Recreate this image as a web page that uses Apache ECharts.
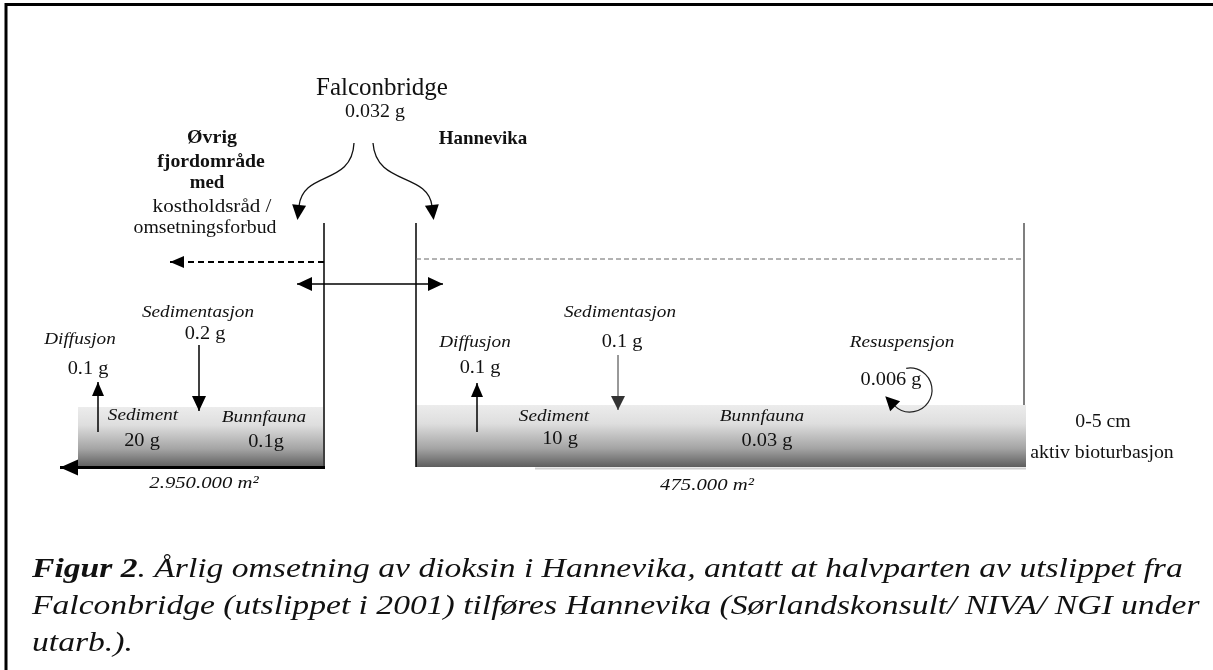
<!DOCTYPE html>
<html>
<head>
<meta charset="utf-8">
<title>Figur 2 - dioksin i Hannevika</title>
<script src="https://cdn.jsdelivr.net/npm/echarts@6/dist/echarts.min.js"></script>
<style>
  html, body { margin: 0; padding: 0; background: #fff; }
  #chart { width: 1213px; height: 670px; }
</style>
</head>
<body>
<div id="chart"></div>
<script>
// tekst og verdier lest av figuren
var source = ['Falconbridge', '0.032 g'];
var regionLeft = ['Øvrig', 'fjordområde', 'med', 'kostholdsråd /', 'omsetningsforbud'];
var regionRight = ['Hannevika'];
var processes = ['Sedimentasjon', 'Diffusjon', 'Resuspensjon'];
var compartments = ['Sediment', 'Bunnfauna'];
var sedimentasjon = ['0.2 g', '0.1 g'];   // [øvrig fjord, Hannevika]
var diffusjon = ['0.1 g', '0.1 g'];
var sediment = ['20 g', '10 g'];
var bunnfauna = ['0.1g', '0.03 g'];
var resuspensjon = ['0.006 g'];
var areas = ['2.950.000 m²', '475.000 m²'];
var layer = ['0-5 cm', 'aktiv bioturbasjon'];
var captionLines = [
  ['Figur 2', '. Årlig omsetning av dioksin i Hannevika, antatt at halvparten av utslippet fra'],
  ['', 'Falconbridge (utslippet i 2001) tilføres Hannevika (Sørlandskonsult/ NIVA/ NGI under'],
  ['', 'utarb.).']
];

var SERIF = '"Liberation Serif", "Times New Roman", serif';

// plassering i figurens koordinater (x 0-1213, y 0-670 nedover)
// sx = horisontal strekk, originalen er litt bredere enn Times
var labels = [
  { t: source[0], x: 382, y: 88, size: 25, sx: 1 },
  { t: source[1], x: 375, y: 112, size: 19, sx: 1.05 },
  { t: regionLeft[0], x: 212, y: 138, size: 19, bold: true, sx: 1.05 },
  { t: regionLeft[1], x: 211, y: 162, size: 19, bold: true, sx: 1.04 },
  { t: regionLeft[2], x: 207, y: 183, size: 18, bold: true, sx: 1.05 },
  { t: regionLeft[3], x: 212, y: 207, size: 18, sx: 1.17 },
  { t: regionLeft[4], x: 205, y: 228, size: 18, sx: 1.1 },
  { t: regionRight[0], x: 483, y: 139, size: 19, bold: true, sx: 1 },

  { t: processes[0], x: 198, y: 313, size: 17, italic: true },
  { t: sedimentasjon[0], x: 205, y: 334, size: 18 },
  { t: processes[1], x: 80, y: 340, size: 17, italic: true },
  { t: diffusjon[0], x: 88, y: 369, size: 18 },
  { t: compartments[0], x: 143, y: 416, size: 17, italic: true },
  { t: sediment[0], x: 142, y: 441, size: 18 },
  { t: compartments[1], x: 264, y: 418, size: 17, italic: true },
  { t: bunnfauna[0], x: 266, y: 442, size: 18 },
  { t: areas[0], x: 204, y: 484, size: 17, italic: true, sx: 1.22 },

  { t: processes[0], x: 620, y: 313, size: 17, italic: true },
  { t: sedimentasjon[1], x: 622, y: 342, size: 18 },
  { t: processes[1], x: 475, y: 343, size: 17, italic: true },
  { t: diffusjon[1], x: 480, y: 368, size: 18 },
  { t: compartments[0], x: 554, y: 417, size: 17, italic: true },
  { t: sediment[1], x: 560, y: 439, size: 18 },
  { t: compartments[1], x: 762, y: 417, size: 17, italic: true },
  { t: bunnfauna[1], x: 767, y: 441, size: 18 },
  { t: processes[2], x: 902, y: 343, size: 17, italic: true },
  { t: resuspensjon[0], x: 891, y: 380, size: 18 },
  { t: layer[0], x: 1103, y: 422, size: 18, sx: 1.1 },
  { t: layer[1], x: 1102, y: 453, size: 18, sx: 1.1 },
  { t: areas[1], x: 707, y: 486, size: 17, italic: true, sx: 1.22 }
];

var captionPos = [{ x: 32, y: 570 }, { x: 32, y: 607 }, { x: 32, y: 644 }];
var captionSize = 28;
var captionStretch = 1.2;

// linjer: x1, y1, x2, y2
var segs = [
  { p: [5, 4.5, 1213, 4.5], w: 3 },
  { p: [6, 3, 6, 670], w: 3 },
  { p: [324, 223, 324, 468], w: 1.5 },
  { p: [416, 223, 416, 467], w: 1.5 },
  { p: [1024, 223, 1024, 405], w: 1.5, c: '#555' },
  { p: [535, 468.5, 1026, 468.5], w: 2, c: '#d0d0d0' },
  { p: [325, 467.5, 60, 467.5], w: 3, head: 'end', hl: 18, hw: 8 },
  { p: [324, 262, 170, 262], w: 2, dash: [6, 4], head: 'end', hl: 14, hw: 6 },
  { p: [416, 259, 1024, 259], w: 1, dash: [5, 3], c: '#666' },
  { p: [297, 284, 443, 284], w: 1.5, head: 'both', hl: 15, hw: 7 },
  { p: [199, 345, 199, 411], w: 1.5, head: 'end', hl: 15, hw: 7 },
  { p: [618, 355, 618, 410], w: 1, c: '#333', head: 'end', hl: 14, hw: 7 },
  { p: [98, 432, 98, 382], w: 1.5, head: 'end', hl: 14, hw: 6 },
  { p: [477, 432, 477, 383], w: 1.5, head: 'end', hl: 14, hw: 6 }
];

// kurvepiler: x1, y1, cpx1, cpy1, cpx2, cpy2, x2, y2
var curves = [
  [354, 143, 352, 186, 303, 170, 299, 206],
  [373, 143, 376, 186, 428, 172, 432, 206]
];

// sedimentlag: x1, y1, x2, y2
var beds = [
  [78, 407, 323, 467],
  [416, 405, 1026, 467]
];

// resuspensjonssirkel: cx, cy, radiuspunkt x
var loops = [[910, 390, 932]];

function arrowHead(tip, from, hl, hw, color) {
  var dx = tip[0] - from[0], dy = tip[1] - from[1];
  var len = Math.sqrt(dx * dx + dy * dy) || 1;
  dx /= len; dy /= len;
  var bx = tip[0] - dx * hl, by = tip[1] - dy * hl;
  return {
    type: 'polygon',
    shape: { points: [tip, [bx - dy * hw, by + dx * hw], [bx + dy * hw, by - dx * hw]] },
    style: { fill: color }
  };
}

function renderSeg(params, api) {
  var s = segs[params.dataIndex];
  var a = api.coord([api.value(0), api.value(1)]);
  var b = api.coord([api.value(2), api.value(3)]);
  var color = s.c || '#000';
  var kids = [{
    type: 'line',
    shape: { x1: a[0], y1: a[1], x2: b[0], y2: b[1] },
    style: { stroke: color, lineWidth: s.w, lineDash: s.dash || null }
  }];
  if (s.head === 'end' || s.head === 'both') kids.push(arrowHead(b, a, s.hl, s.hw, color));
  if (s.head === 'both') kids.push(arrowHead(a, b, s.hl, s.hw, color));
  return { type: 'group', children: kids };
}

function renderCurve(params, api) {
  var p = [];
  for (var i = 0; i < 4; i++) p.push(api.coord([api.value(i * 2), api.value(i * 2 + 1)]));
  var end = p[3];
  var d = [end[0] - p[2][0], end[1] - p[2][1]];
  var l = Math.sqrt(d[0] * d[0] + d[1] * d[1]);
  var tip = [end[0] + d[0] / l * 14, end[1] + d[1] / l * 14];
  return {
    type: 'group',
    children: [{
      type: 'bezierCurve',
      shape: { x1: p[0][0], y1: p[0][1], cpx1: p[1][0], cpy1: p[1][1], cpx2: p[2][0], cpy2: p[2][1], x2: end[0], y2: end[1] },
      style: { stroke: '#111', lineWidth: 1.3, fill: null }
    }, arrowHead(tip, end, 15, 7, '#000')]
  };
}

function renderBed(params, api) {
  var a = api.coord([api.value(0), api.value(1)]);
  var b = api.coord([api.value(2), api.value(3)]);
  return {
    type: 'rect',
    shape: { x: a[0], y: a[1], width: b[0] - a[0], height: b[1] - a[1] },
    style: {
      fill: new echarts.graphic.LinearGradient(0, 0, 0, 1, [
        { offset: 0, color: '#ececec' },
        { offset: 0.3, color: '#dedede' },
        { offset: 0.7, color: '#a4a4a4' },
        { offset: 1, color: '#5e5e5e' }
      ])
    }
  };
}

function renderLoop(params, api) {
  var c = api.coord([api.value(0), api.value(1)]);
  var r = api.coord([api.value(2), api.value(1)])[0] - c[0];
  var a0 = -100 * Math.PI / 180, a1 = 135 * Math.PI / 180;
  var end = [c[0] + r * Math.cos(a1), c[1] + r * Math.sin(a1)];
  var dir = [-Math.sin(a1), Math.cos(a1)];
  var tip = [end[0] + dir[0] * 13, end[1] + dir[1] * 13];
  return {
    type: 'group',
    children: [{
      type: 'arc',
      shape: { cx: c[0], cy: c[1], r: r, startAngle: a0, endAngle: a1, clockwise: true },
      style: { stroke: '#222', lineWidth: 1.2, fill: null }
    }, arrowHead(tip, end, 14, 7, '#000')]
  };
}

function renderLabel(params, api) {
  var l = labels[params.dataIndex];
  var pt = api.coord([api.value(0), api.value(1)]);
  return {
    type: 'text',
    x: pt[0], y: pt[1],
    scaleX: l.sx || 1.13,
    style: {
      text: l.t,
      fill: '#111',
      fontFamily: SERIF,
      fontSize: l.size,
      fontWeight: l.bold ? 'bold' : 'normal',
      fontStyle: l.italic ? 'italic' : 'normal',
      align: 'center',
      verticalAlign: 'middle'
    }
  };
}

function renderCaption(params, api) {
  var line = captionLines[params.dataIndex];
  var pt = api.coord([api.value(0), api.value(1)]);
  var txt = (line[0] ? '{b|' + line[0] + '}' : '') + '{i|' + line[1] + '}';
  var base = { fontFamily: SERIF, fontSize: captionSize, fontStyle: 'italic', fill: '#111' };
  return {
    type: 'text',
    x: pt[0], y: pt[1],
    scaleX: captionStretch,
    style: {
      text: txt,
      align: 'left',
      verticalAlign: 'middle',
      rich: {
        b: Object.assign({ fontWeight: 'bold' }, base),
        i: Object.assign({ fontWeight: 'normal' }, base)
      }
    }
  };
}

var chart = echarts.init(document.getElementById('chart'), null, { renderer: 'canvas' });
chart.setOption({
  backgroundColor: '#fff',
  animation: false,
  grid: { left: 0, right: 0, top: 0, bottom: 0 },
  xAxis: { type: 'value', min: 0, max: 1213, show: false },
  yAxis: { type: 'value', min: 0, max: 670, inverse: true, show: false },
  series: [
    { type: 'custom', name: 'sediment', renderItem: renderBed, data: beds, silent: true, clip: false },
    { type: 'custom', name: 'linjer', renderItem: renderSeg, data: segs.map(function (s) { return s.p; }), silent: true, clip: false },
    { type: 'custom', name: 'kurver', renderItem: renderCurve, data: curves, silent: true, clip: false },
    { type: 'custom', name: 'resuspensjon', renderItem: renderLoop, data: loops, silent: true, clip: false },
    { type: 'custom', name: 'tekst', renderItem: renderLabel, data: labels.map(function (l) { return [l.x, l.y]; }), silent: true, clip: false },
    { type: 'custom', name: 'figurtekst', renderItem: renderCaption, data: captionPos.map(function (p) { return [p.x, p.y]; }), silent: true, clip: false }
  ]
});
</script>
</body>
</html>
